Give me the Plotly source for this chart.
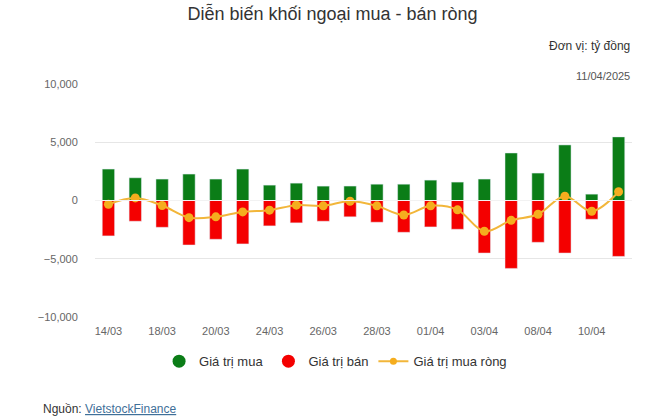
import plotly.graph_objects as go

# foreign investors, daily trading value (ty dong)
ngay = ["14/03", "17/03", "18/03", "19/03", "20/03", "21/03", "24/03", "25/03",
        "26/03", "27/03", "28/03", "31/03", "01/04", "02/04", "03/04", "04/04",
        "08/04", "09/04", "10/04", "11/04"]
gia_tri_mua = [2700, 1950, 1840, 2270, 1840, 2700, 1320, 1490, 1235, 1240,
               1400, 1400, 1750, 1580, 1840, 4080, 2355, 4770, 545, 5460]
gia_tri_ban = [-3040, -1780, -2300, -3820, -3330, -3730, -2180, -1920, -1780, -1400,
               -1865, -2730, -2270, -2470, -4510, -5830, -3590, -4510, -1610, -4800]
mua_rong = [-320, 220, -430, -1470, -1400, -980, -830, -400, -460, -60,
            -460, -1240, -460, -800, -2640, -1700, -1180, 370, -920, 750]

nhan_truc_x = ngay[::2]

green = "#0b7d17"
red = "#f40000"
orange = "#f5ad1e"

fig = go.Figure()
fig.add_trace(go.Bar(x=ngay, y=gia_tri_mua, name="Giá trị mua", marker_color=green,
                     width=0.46, showlegend=False))
fig.add_trace(go.Bar(x=ngay, y=gia_tri_ban, name="Giá trị bán", marker_color=red,
                     width=0.46, showlegend=False))
fig.add_trace(go.Scatter(x=ngay, y=mua_rong, name="Giá trị mua ròng", mode="lines+markers",
                         line=dict(color="#f2b63a", width=2, shape="spline"),
                         marker=dict(color=orange, size=9), showlegend=False))

# legend entries drawn as round dots like the original
fig.add_trace(go.Scatter(x=[None], y=[None], name="Giá trị mua", mode="markers",
                         marker=dict(color=green, size=13)))
fig.add_trace(go.Scatter(x=[None], y=[None], name="Giá trị bán", mode="markers",
                         marker=dict(color=red, size=13)))
fig.add_trace(go.Scatter(x=[None], y=[None], name="Giá trị mua ròng", mode="lines+markers",
                         line=dict(color="#f2b63a", width=2),
                         marker=dict(color=orange, size=7)))

fig.update_layout(
    width=665, height=420,
    margin=dict(l=95, r=33, t=84, b=103),
    paper_bgcolor="white", plot_bgcolor="white",
    font=dict(family="Liberation Sans, Arial, sans-serif", color="#555"),
    barmode="relative", bargap=0.5,
    title=dict(text="Diễn biến khối ngoại mua - bán ròng", x=0.5, xanchor="center",
               y=0.967, yanchor="middle", font=dict(size=18, color="#333")),
    legend=dict(orientation="h", x=0.448, xanchor="center", y=-0.19, yanchor="middle",
                font=dict(size=13, color="#333"), itemwidth=30, traceorder="normal"),
    hovermode="x",
)
fig.update_xaxes(type="category", tickvals=nhan_truc_x, ticktext=nhan_truc_x,
                 showgrid=False, showline=False,
                 tickfont=dict(size=11, color="#666"), ticks="outside", ticklen=4,
                 tickcolor="white", range=[-0.5, 19.5])
fig.update_yaxes(range=[-10000, 10000], dtick=5000, tickformat=",",
                 gridcolor="#e6e6e6", zeroline=True, zerolinecolor="#e6e6e6",
                 zerolinewidth=1, tickfont=dict(size=11, color="#666"), ticklen=14,
                 ticks="outside", tickcolor="white")

# thin light line across the bars at zero
fig.add_hline(y=0, line_color="#f2f2f2", line_width=1, layer="above")

fig.add_annotation(text="Đơn vị: tỷ đồng", xref="paper", yref="paper", x=1, y=1.163,
                   xanchor="right", yanchor="middle", showarrow=False,
                   font=dict(size=12, color="#333"))
fig.add_annotation(text="11/04/2025", xref="paper", yref="paper", x=1, y=1.034,
                   xanchor="right", yanchor="middle", showarrow=False,
                   font=dict(size=11, color="#555"))
fig.add_annotation(text="Nguồn: <span style='color:#3f7099'><u>VietstockFinance</u></span>",
                   xref="paper", yref="paper", x=-0.1, y=-0.395,
                   xanchor="left", yanchor="middle", showarrow=False,
                   font=dict(size=12, color="#333"))

fig.write_html("out.html", config={"displayModeBar": False},
               post_script="document.body.style.margin='0';")
